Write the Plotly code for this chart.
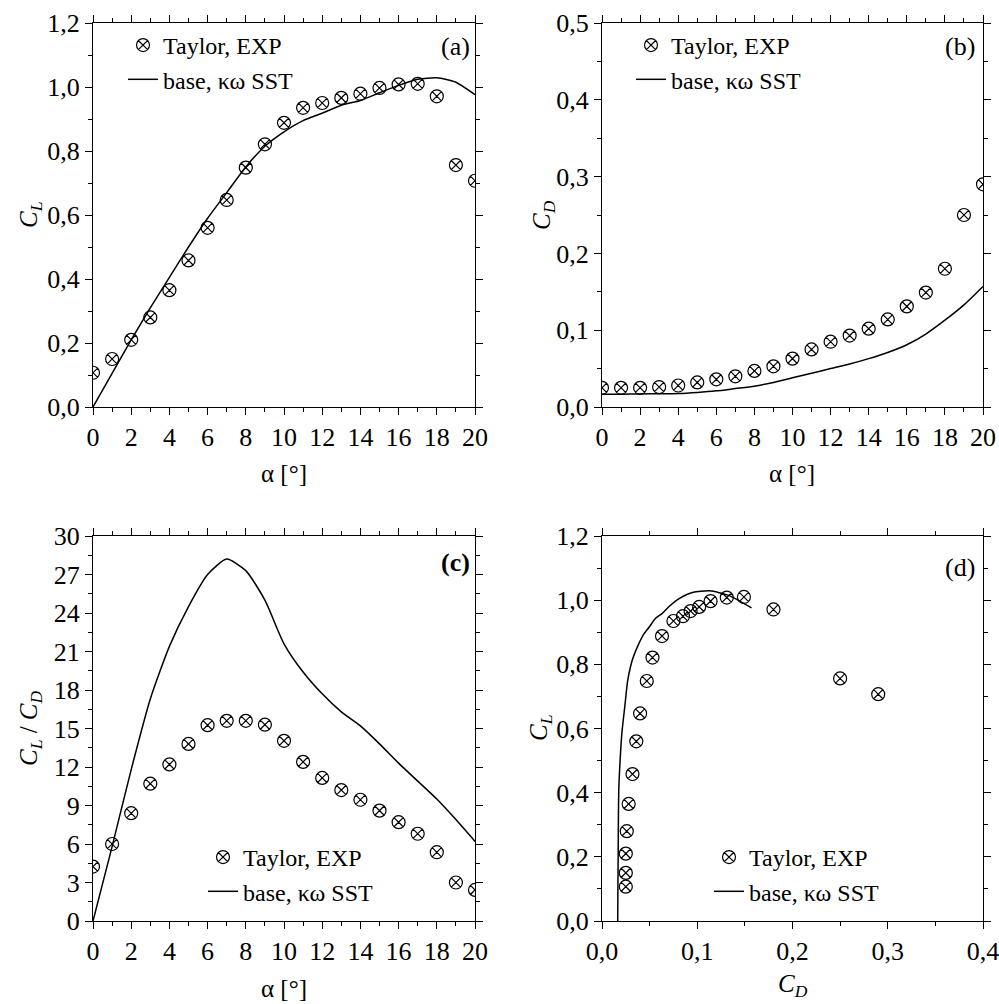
import plotly.graph_objects as go

# ---------------- data ----------------
alpha = list(range(0, 21))

# Experimental (Taylor)
cl_exp = [0.107, 0.150, 0.210, 0.280, 0.365, 0.458, 0.560, 0.647, 0.748, 0.821, 0.888,
          0.935, 0.950, 0.966, 0.979, 0.997, 1.008, 1.010, 0.971, 0.756, 0.707]
cd_exp = [0.025, 0.025, 0.025, 0.026, 0.028, 0.032, 0.036, 0.040, 0.047, 0.053, 0.063,
          0.075, 0.085, 0.093, 0.102, 0.114, 0.131, 0.149, 0.180, 0.250, 0.290]
clcd_exp = [4.24, 6.0, 8.4, 10.7, 12.2, 13.8, 15.26, 15.6, 15.6, 15.3, 14.04,
            12.4, 11.15, 10.2, 9.45, 8.6, 7.7, 6.8, 5.36, 3.0, 2.42]

# CFD, base k-omega SST
cl_cfd = [0.0, 0.105, 0.21, 0.31, 0.405, 0.50, 0.59, 0.67, 0.75, 0.815, 0.86,
          0.895, 0.918, 0.943, 0.958, 0.982, 1.005, 1.024, 1.029, 1.015, 0.976]
cd_cfd = [0.0165, 0.0167, 0.0170, 0.0172, 0.0176, 0.019, 0.021, 0.024, 0.027, 0.032, 0.038,
          0.044, 0.050, 0.056, 0.063, 0.071, 0.081, 0.095, 0.113, 0.133, 0.157]
clcd_cfd = [0.0, 5.8, 11.8, 17.3, 21.4, 24.5, 27.0, 28.2, 27.3, 25.0, 21.6,
            19.4, 17.7, 16.3, 15.2, 13.8, 12.3, 10.9, 9.5, 7.9, 6.2]

exp_name = "Taylor, EXP"
cfd_name = "base, κω SST"
panel_labels = ["(a)", "(b)", "<b>(c)</b>", "(d)"]

# ---------------- layout helpers ----------------
W, H = 999, 1004
FONT = "Liberation Serif, Times New Roman, serif"


def px(x):
    return x / W


def py(y):
    return 1 - y / H


marker = dict(symbol="circle-x-open", size=13, color="black", line=dict(width=1.2, color="black"))
lstyle = dict(color="black", width=1.5)

fig = go.Figure()

panels = [
    (alpha, cl_exp, cl_cfd, alpha, "legend"),
    (alpha, cd_exp, cd_cfd, alpha, "legend2"),
    (alpha, clcd_exp, clcd_cfd, alpha, "legend3"),
    (cd_exp, cl_exp, cl_cfd, cd_cfd, "legend4"),
]
for i, (xe, ye, yc, xc, lg) in enumerate(panels):
    sfx = "" if i == 0 else str(i + 1)
    fig.add_trace(go.Scatter(x=xc, y=yc, mode="lines", line=dict(**lstyle, shape="spline", smoothing=0.6),
                             name=cfd_name, legend=lg, xaxis="x" + sfx, yaxis="y" + sfx,
                             legendrank=2))
    fig.add_trace(go.Scatter(x=xe, y=ye, mode="markers", marker=marker,
                             name=exp_name, legend=lg, xaxis="x" + sfx, yaxis="y" + sfx,
                             legendrank=1))

tickfont = dict(family=FONT, size=26, color="black")


def ax(domain, rng, dtick, mdtick, fmt=None, anchor=None):
    d = dict(domain=domain, range=rng, dtick=dtick, tick0=0, showline=True, linecolor="black",
             linewidth=1, mirror="ticks", ticks="outside", ticklen=7, tickwidth=1, tickcolor="black",
             minor=dict(ticks="outside", ticklen=4, tickwidth=1, tickcolor="black", dtick=mdtick, tick0=0),
             showgrid=False, zeroline=False, tickfont=tickfont, automargin=False, anchor=anchor,
             fixedrange=True, ticklabeloverflow="allow")
    if fmt:
        d["tickformat"] = fmt
    return d


xa = [px(93), px(475)]
xb = [px(602), px(983)]
ytop = [py(407), py(23)]
ybot = [py(921), py(536)]

fig.update_layout(
    xaxis=ax(xa, [0, 20.0001], 2, 1, anchor="y"),
    yaxis=ax(ytop, [0, 1.20001], 0.2, 0.1, ".1f", anchor="x"),
    xaxis2=ax(xb, [0, 20.0001], 2, 1, anchor="y2"),
    yaxis2=ax(ytop, [0, 0.500001], 0.1, 0.05, ".1f", anchor="x2"),
    xaxis3=ax(xa, [0, 20.0001], 2, 1, anchor="y3"),
    yaxis3=ax(ybot, [0, 30.0001], 3, 1.5, anchor="x3"),
    xaxis4=ax(xb, [0, 0.400001], 0.1, 0.05, ".1f", anchor="y4"),
    yaxis4=ax(ybot, [0, 1.20001], 0.2, 0.1, ".1f", anchor="x4"),
)

legfont = dict(family=FONT, size=24, color="black")


def leg(xpix, ypix):
    return dict(x=px(xpix), y=py(ypix), xanchor="left", yanchor="top", bgcolor="rgba(0,0,0,0)",
                font=legfont, borderwidth=0, tracegroupgap=0, itemsizing="trace")


fig.update_layout(
    legend=leg(123, 23),
    legend2=leg(631, 23),
    legend3=leg(203, 835),
    legend4=leg(709, 835),
)

annotations = []
tfont = dict(family=FONT, size=25, color="black")
# x titles
for (xc, yc, txt) in [(284, 473, "α [°]"), (792, 473, "α [°]"), (284, 988, "α [°]"),
                      (793, 985, "<i>C<sub>D</sub></i>")]:
    annotations.append(dict(x=px(xc), y=py(yc), xref="paper", yref="paper", text=txt, showarrow=False,
                            font=tfont, xanchor="center", yanchor="middle"))
# y titles
for (xc, yc, txt) in [(30, 215, "<i>C<sub>L</sub></i>"), (543, 215, "<i>C<sub>D</sub></i>"),
                      (30, 728, "<i>C<sub>L</sub></i> / <i>C<sub>D</sub></i>"),
                      (540, 728, "<i>C<sub>L</sub></i>")]:
    annotations.append(dict(x=px(xc), y=py(yc), xref="paper", yref="paper", text=txt, showarrow=False,
                            font=tfont, textangle=-90, xanchor="center", yanchor="middle"))
# panel labels
for (xc, yc), txt in zip([(455, 47), (960, 47), (455, 562), (960, 567)], panel_labels):
    annotations.append(dict(x=px(xc), y=py(yc), xref="paper", yref="paper", text=txt, showarrow=False,
                            font=dict(family=FONT, size=26, color="black"), xanchor="center",
                            yanchor="middle"))

fig.update_layout(
    width=W, height=H, margin=dict(l=0, r=0, t=0, b=0),
    paper_bgcolor="white", plot_bgcolor="white",
    separators=", ",
    font=dict(family=FONT, color="black"),
    annotations=annotations,
)

fig.write_html("out.html", config={"displayModeBar": False},
               post_script="document.body.style.margin='0';document.body.style.overflow='hidden';")
